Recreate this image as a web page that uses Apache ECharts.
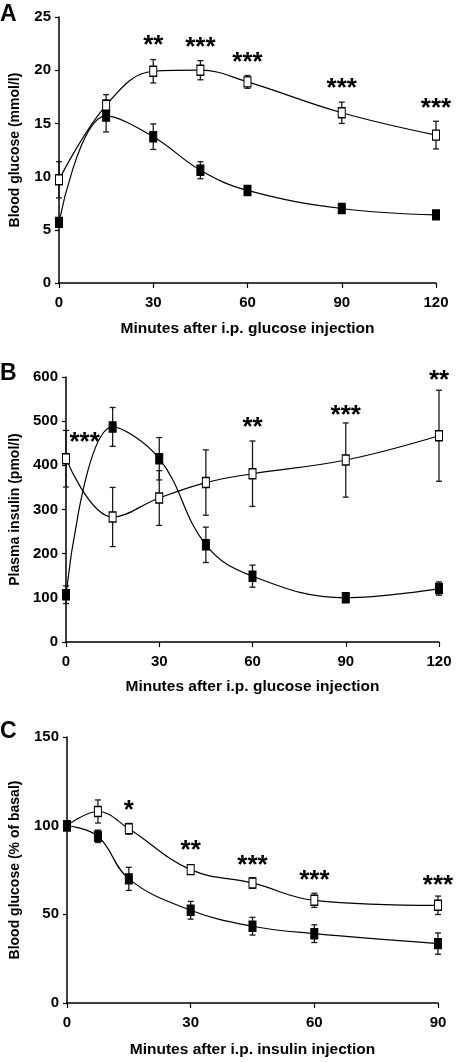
<!DOCTYPE html>
<html><head><meta charset="utf-8">
<script src="https://cdn.jsdelivr.net/npm/echarts@6/dist/echarts.min.js"></script>
<style>html,body{margin:0;padding:0;background:#fff}#c{width:458px;height:1062px}</style>
</head><body><div id="c"></div>
<script>
// Panel A: IPGTT blood glucose
const timeA = [0, 15, 30, 45, 60, 90, 120];
const glucoseOpen = [9.7, 16.7, 19.9, 20.0, 18.9, 16.0, 13.9];
const glucoseOpenErr = [1.7, 1.0, 1.1, 0.9, 0.6, 1.0, 1.3];
const glucoseFilled = [5.7, 15.7, 13.75, 10.6, 8.7, 7.0, 6.4];
const glucoseFilledErr = [0.4, 1.5, 1.2, 0.8, 0.4, 0.3, 0.3];
const starsA = ['**', '***', '***', '***', '***'];
const starsAX = [30, 45, 60, 90, 120];
const starsAY = [22.7, 22.5, 21.1, 18.6, 16.7];

// Panel B: plasma insulin
const timeB = [0, 15, 30, 45, 60, 90, 120];
const insulinOpen = [415, 283, 326, 361, 381, 412, 467];
const insulinOpenErr = [64, 67, 62, 74, 74, 84, 103];
const insulinFilled = [107, 487, 415, 220, 149, 100, 121];
const insulinFilledErr = [20, 44, 48, 40, 25, 8, 15];
const starsB = ['***', '**', '***', '**'];
const starsBX = [6, 60, 90, 120];
const starsBY = [460, 493, 521, 601];

// Panel C: ITT blood glucose (% of basal)
const timeC = [0, 7.5, 15, 30, 45, 60, 90];
const ittOpen = [100, 108, 98.3, 75.2, 67.7, 57.9, 55.1];
const ittOpenErr = [0, 6.5, 3, 2.5, 3, 4, 5.2];
const ittFilled = [100, 94, 70, 52.3, 43.3, 39.1, 33.5];
const ittFilledErr = [0, 3.5, 6.5, 5, 5, 5, 6];
const starsC = ['*', '**', '***', '***', '***'];
const starsCX = [15, 30, 45, 60, 90];
const starsCY = [110.5, 88, 79.5, 71, 68.4];

const FONT = '"Liberation Sans", Arial, sans-serif';
const chart = echarts.init(document.getElementById('c'), null, {renderer: 'canvas'});

function xAx(idx, max, name, gap) {
  return {
    gridIndex: idx, type: 'value', min: 0, max: max, interval: 30,
    name: name, nameLocation: 'middle', nameGap: gap,
    nameTextStyle: {fontFamily: FONT, fontWeight: 'bold', fontSize: 15.5, color: '#000'},
    axisLine: {onZero: false, lineStyle: {color: '#000', width: 1.5}},
    axisTick: {show: true, length: 5, lineStyle: {color: '#000', width: 1.2}},
    axisLabel: {fontFamily: FONT, fontWeight: 'bold', fontSize: 15, color: '#000', margin: 12},
    splitLine: {show: false}
  };
}
function yAx(idx, max, interval, name, gap) {
  return {
    gridIndex: idx, type: 'value', min: 0, max: max, interval: interval,
    name: name, nameLocation: 'middle', nameGap: gap, nameRotate: 90,
    nameTextStyle: {fontFamily: FONT, fontWeight: 'bold', fontSize: 14, color: '#000'},
    axisLine: {show: true, onZero: false, lineStyle: {color: '#000', width: 1.5}},
    axisTick: {show: true, length: 4, lineStyle: {color: '#000', width: 1.2}},
    axisLabel: {fontFamily: FONT, fontWeight: 'bold', fontSize: 15, color: '#000', margin: 8},
    splitLine: {show: false}
  };
}

function errSeries(idx, xs, ys, es) {
  return {
    type: 'custom', xAxisIndex: idx, yAxisIndex: idx, z: 2, silent: true,
    data: xs.map((x, i) => [x, ys[i] - es[i], ys[i] + es[i]]),
    renderItem: function (params, api) {
      const lo = api.coord([api.value(0), api.value(1)]);
      const hi = api.coord([api.value(0), api.value(2)]);
      const w = 3;
      const st = {stroke: '#1a1a1a', lineWidth: 1.3};
      return {type: 'group', children: [
        {type: 'line', shape: {x1: lo[0], y1: lo[1], x2: hi[0], y2: hi[1]}, style: st},
        {type: 'line', shape: {x1: lo[0] - w, y1: lo[1], x2: lo[0] + w, y2: lo[1]}, style: st},
        {type: 'line', shape: {x1: hi[0] - w, y1: hi[1], x2: hi[0] + w, y2: hi[1]}, style: st}
      ]};
    }
  };
}
function lineSeries(idx, xs, ys, filled) {
  return {
    type: 'line', xAxisIndex: idx, yAxisIndex: idx, z: filled ? 4 : 3,
    data: xs.map((x, i) => [x, ys[i]]),
    smooth: 0.4, symbol: 'rect', symbolSize: [7, 10], showAllSymbol: true,
    lineStyle: {color: '#000', width: 1.2},
    itemStyle: {color: filled ? '#000' : '#fff', borderColor: '#000', borderWidth: 1.2},
    silent: true, animation: false
  };
}
function starSeries(idx, labels, xs, ys) {
  return {
    type: 'scatter', xAxisIndex: idx, yAxisIndex: idx, z: 5, clip: false, silent: true,
    symbolSize: 0, itemStyle: {color: '#000', opacity: 1},
    data: xs.map((x, i) => ({value: [x, ys[i]], name: labels[i]})),
    label: {show: true, position: 'inside', formatter: p => p.name, offset: [0, 4],
      fontFamily: FONT, fontWeight: 'bold', fontSize: 26, color: '#000', opacity: 1,
      textBorderWidth: 0, textBorderColor: 'transparent'}
  };
}

const option = {
  animation: false,
  backgroundColor: '#fff',
  grid: [
    {left: 56, right: 22, top: 17, height: 266},
    {left: 64, right: 19, top: 377, height: 265},
    {left: 61, right: 20, top: 737, height: 266}
  ],
  xAxis: [
    xAx(0, 120, 'Minutes after i.p. glucose injection', 38),
    xAx(1, 120, 'Minutes after i.p. glucose injection', 37),
    xAx(2, 90, 'Minutes after i.p. insulin injection', 39)
  ],
  yAxis: [
    yAx(0, 25, 5, 'Blood glucose (mmol/l)', 37),
    yAx(1, 600, 100, 'Plasma insulin (pmol/l)', 44),
    yAx(2, 150, 50, 'Blood glucose (% of basal)', 45)
  ],
  graphic: [
    {type: 'text', left: 0, top: 3, style: {text: 'A', font: 'bold 23px ' + FONT, fill: '#000'}},
    {type: 'text', left: 0, top: 362, style: {text: 'B', font: 'bold 23px ' + FONT, fill: '#000'}},
    {type: 'text', left: 0, top: 720, style: {text: 'C', font: 'bold 23px ' + FONT, fill: '#000'}}
  ],
  series: [
    errSeries(0, timeA, glucoseOpen, glucoseOpenErr),
    errSeries(0, timeA, glucoseFilled, glucoseFilledErr),
    lineSeries(0, timeA, glucoseOpen, false),
    lineSeries(0, timeA, glucoseFilled, true),
    starSeries(0, starsA, starsAX, starsAY),
    errSeries(1, timeB, insulinOpen, insulinOpenErr),
    errSeries(1, timeB, insulinFilled, insulinFilledErr),
    lineSeries(1, timeB, insulinOpen, false),
    lineSeries(1, timeB, insulinFilled, true),
    starSeries(1, starsB, starsBX, starsBY),
    errSeries(2, timeC, ittOpen, ittOpenErr),
    errSeries(2, timeC, ittFilled, ittFilledErr),
    lineSeries(2, timeC, ittOpen, false),
    lineSeries(2, timeC, ittFilled, true),
    starSeries(2, starsC, starsCX, starsCY)
  ]
};
chart.setOption(option);
</script></body></html>
